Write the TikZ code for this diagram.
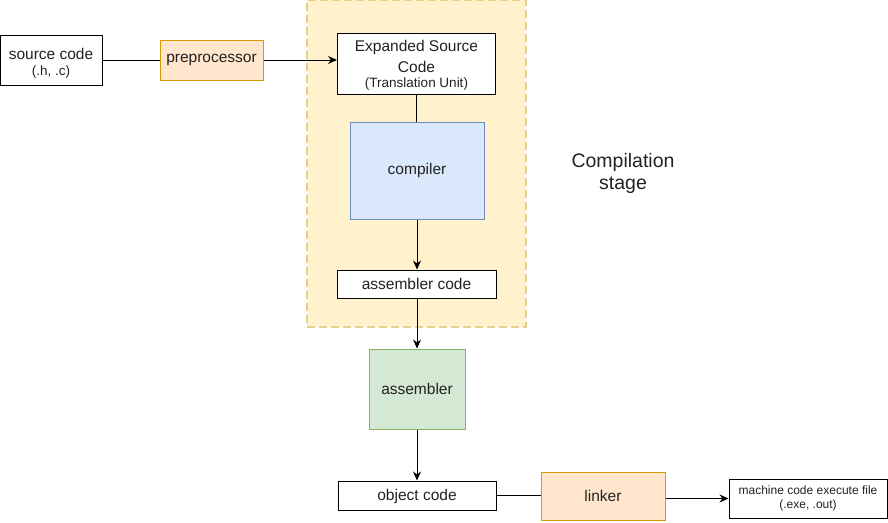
\documentclass[tikz,border=0pt]{standalone}
\usepackage{fontspec}
\setmainfont{Liberation Sans}
\usetikzlibrary{arrows.meta,positioning}
\definecolor{stagefill}{HTML}{FFF2CC}
\definecolor{stageline}{HTML}{E6CF8A}
\definecolor{orfill}{HTML}{FFE6CC}
\definecolor{orline}{HTML}{D79B00}
\definecolor{blfill}{HTML}{DAE8FC}
\definecolor{blline}{HTML}{6C8EBF}
\definecolor{grfill}{HTML}{D5E8D4}
\definecolor{grline}{HTML}{82B366}
\definecolor{txt}{HTML}{222222}
\newcommand{\smtxt}[1]{{\fontsize{13.5}{15}\selectfont #1}}

\begin{document}
\begin{tikzpicture}[x=1pt, y=-1pt,
    box/.style={draw, fill=white, line width=1pt, align=center, inner sep=0pt, text=txt,
        font=\fontsize{15.5}{18}\selectfont},
    proc/.style={box, line width=1pt},
    arr/.style={line width=1pt, -{Stealth[length=9pt, width=8pt]}},
    lin/.style={line width=1pt}]
    \useasboundingbox (0,0) rectangle (888,522);
    \node[fill=stagefill, draw=stageline, line width=1.5pt, dash pattern=on 8pt off 4pt,
        minimum width=219pt, minimum height=327pt, inner sep=0pt] (stage) at (416.5,163.5) {};
    \node[text=txt, align=center, font=\fontsize{19.5}{22}\selectfont] (stagelbl) at (623,173.5) {Compilation\\stage};
    \node[box, minimum width=102pt, minimum height=50pt] (src) at (51,60) {\rule{0pt}{17pt}source code\\[-2pt]\smtxt{(.h, .c)}};
    \node[proc, fill=orfill, draw=orline, minimum width=103pt, minimum height=40pt] (prep) at (211.5,60) {preprocessor};
    \node[box, minimum width=158pt, minimum height=61pt] (exp) at (416.5,63.5) {\rule{0pt}{15pt}Expanded Source\\[3pt]Code\\[-3pt]\smtxt{(Translation Unit)}};
    \node[proc, fill=blfill, draw=blline, minimum width=134pt, minimum height=97pt] (comp) at (417,170.5) {compiler};
    \node[box, minimum width=159pt, minimum height=28pt] (asmcode) at (416.5,284) {assembler code};
    \node[proc, fill=grfill, draw=grline, minimum width=96pt, minimum height=80pt] (asm) at (417,389) {assembler};
    \node[box, minimum width=158pt, minimum height=29pt] (obj) at (417,495.5) {\rule{0pt}{14pt}object code};
    \node[proc, fill=orfill, draw=orline, minimum width=124pt, minimum height=48pt] (link) at (603,496) {linker};
    \node[box, minimum width=158pt, minimum height=39pt, font=\fontsize{12}{14}\selectfont] (exe) at (808,498.5) {machine code execute file\\(.exe, .out)};
    \draw[lin] (src.east) -- (prep.west);
    \draw[arr] (prep.east) -- (prep.east -| exp.west);
    \draw[lin] (exp.south) -- (exp.south |- comp.north);
    \draw[arr] (comp.south) -- (comp.south |- asmcode.north);
    \draw[arr] (asmcode.south -| asm.north) -- (asm.north);
    \draw[arr] (asm.south) -- (obj.north);
    \draw[lin] (obj.east) -- (obj.east -| link.west);
    \draw[arr] (link.east |- exe.west) -- (exe.west);
\end{tikzpicture}
\end{document}
